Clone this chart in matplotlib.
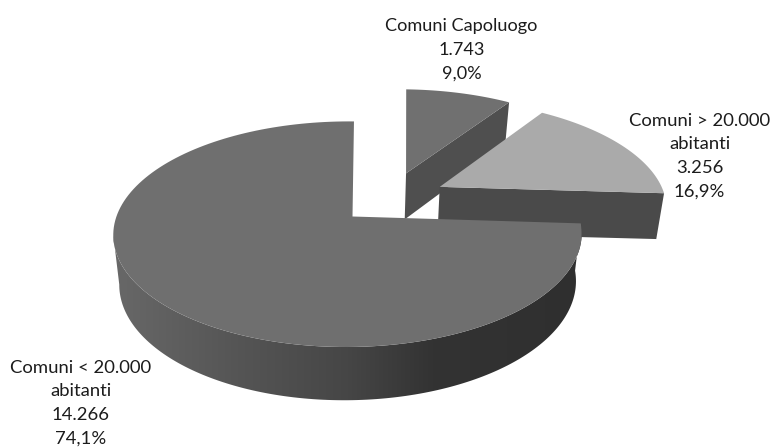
import numpy as np
import matplotlib
matplotlib.use('Agg')
import matplotlib.pyplot as plt
from matplotlib.colors import LinearSegmentedColormap
from matplotlib.patches import Polygon

names = ['Comuni Capoluogo', 'Comuni > 20.000\nabitanti', 'Comuni < 20.000\nabitanti']
values = [1743, 3256, 14266]
value_labels = ['1.743', '3.256', '14.266']
pct_labels = ['9,0%', '16,9%', '74,1%']

# picture is drawn in pixel space, pie plane goes through a small perspective
APEX_X, APEX_Y = 352.5, 216.5
AX, CX, DX, BY, PY, QX = 231.2, 1.7, 0.4, 110.0, 0.157, 0.02
DEPTH = 45.5
INSET = 0.975


def project(x, y, drop=False):
    w = 1 + PY * y + QX * x
    px = (AX * x + CX * y) / w
    py = (DX * x - BY * y) / w
    if drop:
        return APEX_X + INSET * px, APEX_Y + INSET * py + DEPTH / w + 2.5
    return APEX_X + px, APEX_Y + py


def rim(start, end, off, drop=False, n=160):
    t = np.radians(np.linspace(start, end, n))
    return project(off[0] + np.sin(t), off[1] + np.cos(t), drop)


def wedge_top(ax, start, end, apex, off, color, z):
    xs, ys = rim(start, end, off)
    x0, y0 = project(*apex)
    pts = np.column_stack([np.r_[x0, xs], np.r_[y0, ys]])
    ax.add_patch(Polygon(pts, closed=True, fc=color, ec='none', zorder=z))


def cut_face(ax, angle, apex, off, color, z):
    x0, y0 = project(*apex)
    x1, y1 = rim(angle, angle, off, n=1)
    x2, y2 = rim(angle, angle, off, drop=True, n=1)
    x3, y3 = project(*apex, drop=True)
    pts = [(x0, y0), (x1[0], y1[0]), (x2[0], y2[0]), (x3, y3)]
    ax.add_patch(Polygon(pts, closed=True, fc=color, ec='none', zorder=z))


fig = plt.figure(figsize=(7.7, 4.48), dpi=100)
ax = fig.add_axes([0, 0, 1, 1])
ax.set_xlim(0, 770)
ax.set_ylim(448, 0)
ax.axis('off')

angles = np.r_[0, np.cumsum(values)] / sum(values) * 360

# exploded slices: apex and rim are moved a little differently to follow the picture
apex1, off1 = (0.245, 0.421), (0.275, 0.421)
apex2, off2 = (0.395, 0.285), (0.435, 0.29)
apex3, off3 = (0.0, 0.0), (0.0, 0.0)

cut_face(ax, angles[1], apex1, off1, '#4f4f4f', 1)
wedge_top(ax, angles[0], angles[1], apex1, off1, '#707070', 1)
cut_face(ax, angles[2], apex2, off2, '#4a4a4a', 2)
wedge_top(ax, angles[1], angles[2], apex2, off2, '#aaaaaa', 2)

# outer wall of the big slice, shaded left to right, ends where the rim is leftmost
sweep = np.linspace(angles[2], angles[3], 720)
left_angle = sweep[np.argmin(rim(angles[2], angles[3], off3, n=720)[0])]
tx, ty = rim(angles[2], left_angle, off3)
bx, by = rim(angles[2], left_angle, off3, drop=True)
wall = Polygon(np.column_stack([np.r_[tx, bx[::-1]], np.r_[ty, by[::-1]]]),
               closed=True, fc='none', ec='none', transform=ax.transData)
ax.add_patch(wall)
shade = LinearSegmentedColormap.from_list(
    'wall', [(0, '#686868'), (0.25, '#565656'), (0.5, '#464646'), (0.68, '#333333'), (1, '#2f2f2f')])
img = ax.imshow(np.linspace(0, 1, 256)[None, :], cmap=shade, aspect='auto',
                extent=(113, 583, 448, 0), zorder=3)
img.set_clip_path(wall)
ax.set_xlim(0, 770)
ax.set_ylim(448, 0)
wedge_top(ax, angles[2], angles[3], apex3, off3, '#6f6f6f', 4)

label_pos = [(461.5, 50), (699.5, 156), (81, 403)]
font_sizes = [13.1, 13.3, 13.3]
for name, val, pct, (lx, ly), fs in zip(names, value_labels, pct_labels, label_pos, font_sizes):
    ax.text(lx, ly, f'{name}\n{val}\n{pct}', ha='center', va='center', family='Lato',
            fontsize=fs, color='#1c1c1c', linespacing=1.58, zorder=5)

fig.savefig('out.png', dpi=100)
